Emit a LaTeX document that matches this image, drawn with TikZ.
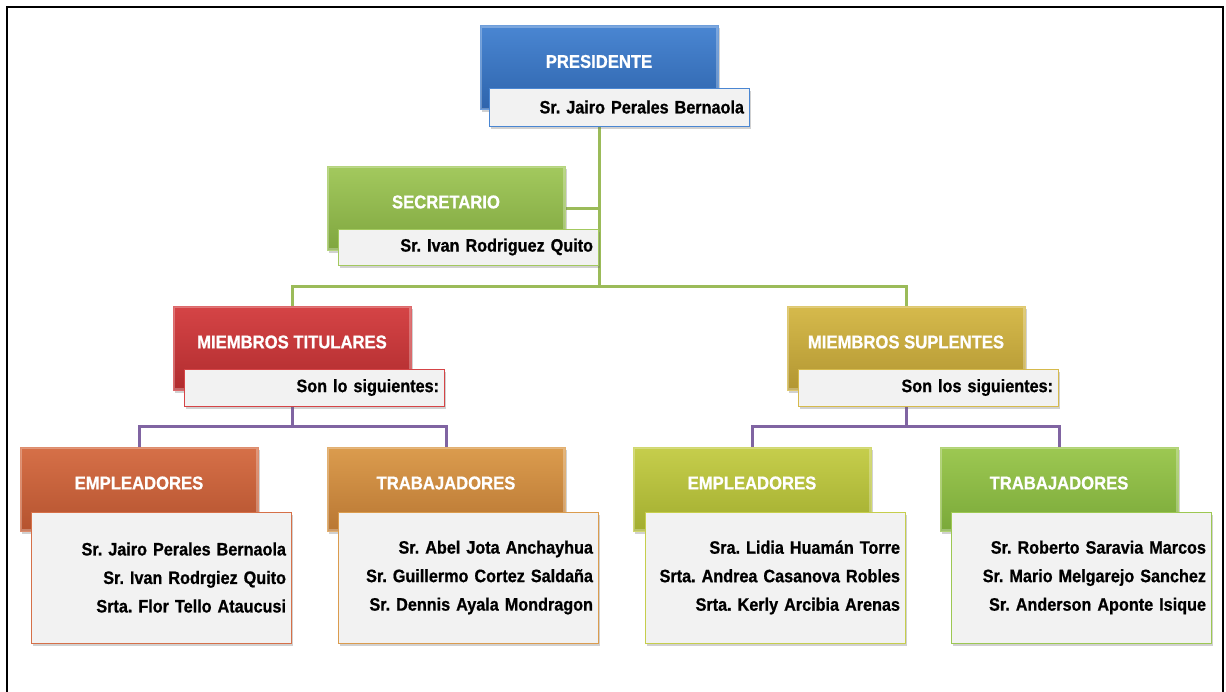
\documentclass[tikz,border=0pt]{standalone}
\usepackage{fontspec}
\setmainfont{Liberation Sans}
\newfontfamily\boxfont{Liberation Sans}[FakeStretch=0.9, BoldFeatures={FakeBold=0.8}]
\usetikzlibrary{shadows}
\pgfdeclarelayer{background}
\pgfsetlayers{background,main}
\frenchspacing

% box colours: top / bottom of the gradient and the frame of the name panels
\definecolor{blueT}{HTML}{4A86D2}\definecolor{blueB}{HTML}{2E64AC}
\definecolor{grnT}{HTML}{A3C95E}\definecolor{grnB}{HTML}{7FA63F}
\definecolor{redT}{HTML}{D54446}\definecolor{redB}{HTML}{B02C2E}
\definecolor{goldT}{HTML}{D6BA4C}\definecolor{goldB}{HTML}{B29632}
\definecolor{rustT}{HTML}{D67048}\definecolor{rustB}{HTML}{B5532F}
\definecolor{ambT}{HTML}{DB9C4E}\definecolor{ambB}{HTML}{B97733}
\definecolor{limeT}{HTML}{C6CE4C}\definecolor{limeB}{HTML}{A2AD2F}
\definecolor{leafT}{HTML}{9DC852}\definecolor{leafB}{HTML}{7AA939}
\definecolor{panel}{HTML}{F2F2F2}
\definecolor{linkG}{HTML}{9BBB59}
\definecolor{linkP}{HTML}{8064A2}

\begin{document}
\begin{tikzpicture}[x=1pt,y=-1pt,
  softshadow/.style={drop shadow={shadow xshift=2pt,shadow yshift=-2.5pt,opacity=0.3,fill=black!60}},
  headbox/.style 2 args={rectangle, minimum width=238pt, minimum height=84pt, inner sep=0pt,
    top color=#1, bottom color=#2, draw=#1!80!white, line width=0.8pt, softshadow,
    path picture={\draw[white,opacity=0.28,line width=4pt]
      (path picture bounding box.south west) rectangle (path picture bounding box.north east);}},
  headtext/.style={text=white, font=\boxfont\bfseries\fontsize{18.5}{20}\selectfont, inner sep=0pt},
  namebox/.style={rectangle, minimum width=260pt, text width=250pt, inner xsep=5pt, inner ysep=0pt,
    align=right, fill=panel, draw=#1, line width=0.8pt, softshadow,
    font=\boxfont\bfseries\fontsize{18}{28.5}\selectfont},
  linkg/.style={draw=linkG, line width=3pt},
  linkp/.style={draw=linkP, line width=3pt}]

\clip (0,0) rectangle (1226,691);
\useasboundingbox (0,0) rectangle (1226,691);
\draw[line width=2.4pt] (7,7) rectangle (1223,720);

% president
\node[headbox={blueT}{blueB}] (pres) at (599,67.5) {};
\node[headtext] (presT) at ([yshift=6pt]pres.center) {PRESIDENTE};
\node[namebox=blueT, minimum height=38pt] (presN) at (619,107) {Sr. Jairo Perales Bernaola};

% secretary
\node[headbox={grnT}{grnB}] (sec) at (446,208) {};
\node[headtext] (secT) at ([yshift=6pt]sec.center) {SECRETARIO};
\node[namebox=grnT, minimum height=36pt] (secN) at (468,247) {Sr. Ivan Rodriguez Quito};

% members
\node[headbox={redT}{redB}] (mt) at (292,348) {};
\node[headtext] (mtT) at ([yshift=6pt]mt.center) {MIEMBROS TITULARES};
\node[namebox=redT, minimum height=37pt] (mtN) at (314,387.5) {Son lo siguientes:};

\node[headbox={goldT}{goldB}] (ms) at (906,348) {};
\node[headtext] (msT) at ([yshift=6pt]ms.center) {MIEMBROS SUPLENTES};
\node[namebox=goldT, minimum height=37pt] (msN) at (928,387.5) {Son los siguientes:};

% groups
\node[headbox={rustT}{rustB}] (le) at (139,489) {};
\node[headtext] (leT) at ([yshift=6pt]le.center) {EMPLEADORES};
\node[namebox=rustT, minimum height=131pt] (leN) at (161,577.5)
  {Sr. Jairo Perales Bernaola\\Sr. Ivan Rodrgiez Quito\\Srta. Flor Tello Ataucusi};

\node[headbox={ambT}{ambB}] (lt) at (446,489) {};
\node[headtext] (ltT) at ([yshift=6pt]lt.center) {TRABAJADORES};
\node[namebox=ambT, minimum height=131pt] (ltN) at (468,577.5)
  {Sr. Abel Jota Anchayhua\\Sr. Guillermo Cortez Saldaña\\Sr. Dennis Ayala Mondragon};

\node[headbox={limeT}{limeB}] (re) at (752,489) {};
\node[headtext] (reT) at ([yshift=6pt]re.center) {EMPLEADORES};
\node[namebox=limeT, minimum height=131pt] (reN) at (775,577.5)
  {Sra. Lidia Huamán Torre\\Srta. Andrea Casanova Robles\\Srta. Kerly Arcibia Arenas};

\node[headbox={leafT}{leafB}] (rt) at (1059,489) {};
\node[headtext] (rtT) at ([yshift=6pt]rt.center) {TRABAJADORES};
\node[namebox=leafT, minimum height=131pt] (rtN) at (1081,577.5)
  {Sr. Roberto Saravia Marcos\\Sr. Mario Melgarejo Sanchez\\Sr. Anderson Aponte Isique};

% connectors behind the boxes
\begin{pgfonlayer}{background}
  \coordinate (busG) at (599,286);
  \coordinate (busL) at (292,426);
  \coordinate (busR) at (906,426);
  \draw[linkg] (pres.center) -- (busG);
  \draw[linkg] (sec.east) -- (sec.east -| pres.center);
  \draw[linkg] (mt.north) |- (busG) -| (ms.north);
  \draw[linkp] (mt.center) -- (busL);
  \draw[linkp] (le.north) |- (busL) -| (lt.north);
  \draw[linkp] (ms.center) -- (busR);
  \draw[linkp] (re.north) |- (busR) -| (rt.north);
\end{pgfonlayer}
\end{tikzpicture}
\end{document}
